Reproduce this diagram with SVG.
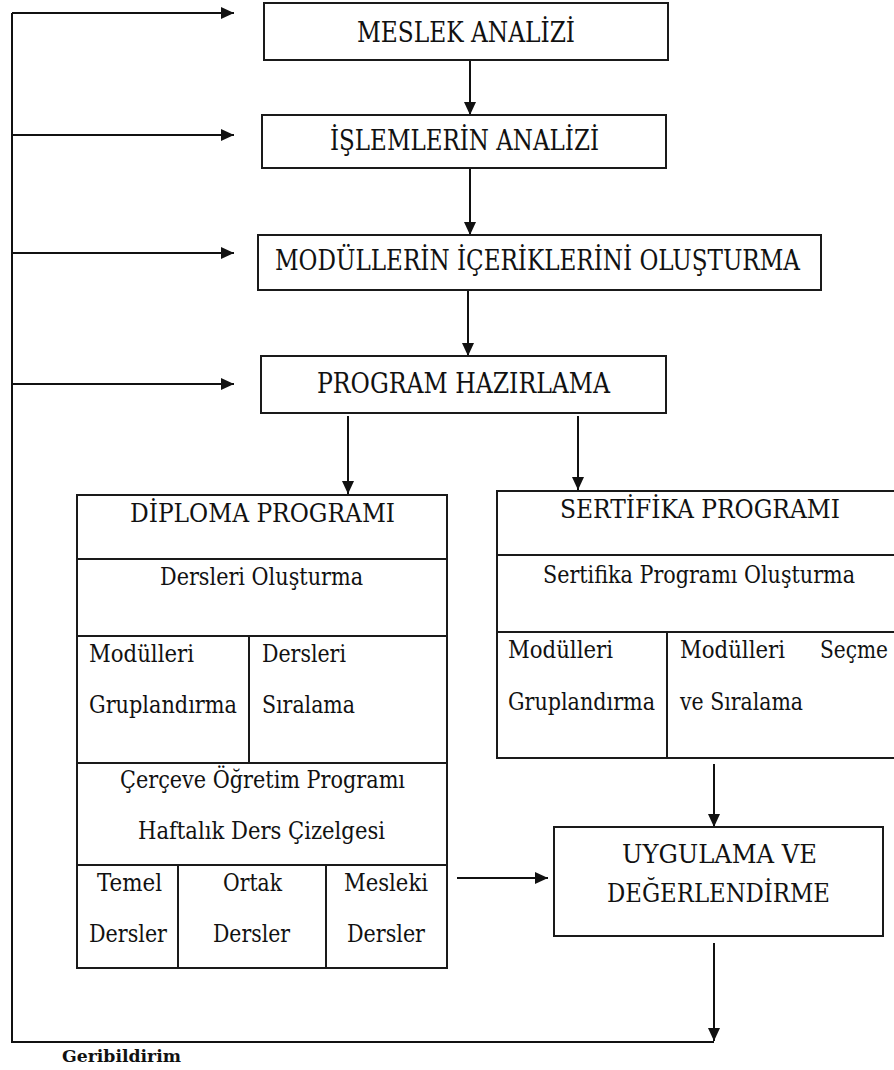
<svg xmlns="http://www.w3.org/2000/svg" width="894" height="1070" viewBox="0 0 894 1070">
  <style>
    .box { fill: #fff; stroke: #1a1a1a; stroke-width: 2; }
    .rule { stroke: #1a1a1a; stroke-width: 2; fill: none; }
    .wire { stroke: #111; stroke-width: 2; fill: none; }
    .arrow { marker-end: url(#head); }
    .lbl { fill: #111; font-family: "DejaVu Serif", "Liberation Serif", "Times New Roman", serif; font-stretch: condensed; }
    .t1 { font-size: 27px; }
    .t2 { font-size: 26px; }
    .t3 { font-size: 24px; }
    .note { font-size: 17px; font-weight: bold; }
  </style>
  <defs>
    <marker id="head" markerUnits="userSpaceOnUse" markerWidth="14" markerHeight="12" refX="13" refY="6" orient="auto">
      <path d="M0,0 L13,6 L0,12 z" fill="#111"/>
    </marker>
  </defs>
  <rect width="894" height="1070" fill="#fff"/>

  <!-- connectors -->
  <g id="connectors">
    <!-- feedback loop -->
    <polyline class="wire" points="714,1042 12,1042 12,13"/>
    <line class="wire arrow" x1="12" y1="13" x2="234" y2="13"/>
    <line class="wire arrow" x1="12" y1="135" x2="234" y2="135"/>
    <line class="wire arrow" x1="12" y1="253" x2="234" y2="253"/>
    <line class="wire arrow" x1="12" y1="384" x2="234" y2="384"/>
    <!-- main chain -->
    <line class="wire arrow" x1="470" y1="61" x2="470" y2="115"/>
    <line class="wire arrow" x1="470" y1="169" x2="470" y2="235"/>
    <line class="wire arrow" x1="468" y1="291" x2="468" y2="356"/>
    <line class="wire arrow" x1="348" y1="416" x2="348" y2="494"/>
    <line class="wire arrow" x1="578" y1="416" x2="578" y2="490"/>
    <line class="wire arrow" x1="457" y1="878" x2="548" y2="878"/>
    <line class="wire arrow" x1="714" y1="764" x2="714" y2="827"/>
    <line class="wire arrow" x1="714" y1="943" x2="714" y2="1041"/>
  </g>

  <g id="meslek-analizi">
    <rect class="box" x="264" y="3" width="404" height="57"/>
    <text class="lbl t1" x="357" y="42" textLength="218" lengthAdjust="spacingAndGlyphs">MESLEK ANALİZİ</text>
  </g>

  <g id="islemlerin-analizi">
    <rect class="box" x="262" y="115" width="404" height="53"/>
    <text class="lbl t1" x="330" y="150" textLength="269" lengthAdjust="spacingAndGlyphs">İŞLEMLERİN ANALİZİ</text>
  </g>

  <g id="modul-icerikleri">
    <rect class="box" x="258" y="235" width="563" height="55"/>
    <text class="lbl t1" x="275" y="270" textLength="525" lengthAdjust="spacingAndGlyphs">MODÜLLERİN İÇERİKLERİNİ OLUŞTURMA</text>
  </g>

  <g id="program-hazirlama">
    <rect class="box" x="261" y="356" width="405" height="57"/>
    <text class="lbl t1" x="317" y="393" textLength="293" lengthAdjust="spacingAndGlyphs">PROGRAM HAZIRLAMA</text>
  </g>

  <g id="diploma-programi">
    <rect class="box" x="77" y="495" width="370" height="473"/>
    <path class="rule" d="M77,559 H447 M77,636 H447 M77,763 H447 M77,865 H447 M249,636 V763 M178,865 V968 M326,865 V968"/>
    <text class="lbl t2" x="130" y="522" textLength="265" lengthAdjust="spacingAndGlyphs">DİPLOMA PROGRAMI</text>
    <text class="lbl t3" x="160" y="585" textLength="203" lengthAdjust="spacingAndGlyphs">Dersleri Oluşturma</text>
    <text class="lbl t3" x="89" y="662" textLength="105" lengthAdjust="spacingAndGlyphs">Modülleri</text>
    <text class="lbl t3" x="89" y="713" textLength="148" lengthAdjust="spacingAndGlyphs">Gruplandırma</text>
    <text class="lbl t3" x="262" y="662" textLength="84" lengthAdjust="spacingAndGlyphs">Dersleri</text>
    <text class="lbl t3" x="262" y="713" textLength="93" lengthAdjust="spacingAndGlyphs">Sıralama</text>
    <text class="lbl t3" x="120" y="788" textLength="285" lengthAdjust="spacingAndGlyphs">Çerçeve Öğretim Programı</text>
    <text class="lbl t3" x="138" y="839" textLength="247" lengthAdjust="spacingAndGlyphs">Haftalık Ders Çizelgesi</text>
    <text class="lbl t3" x="97" y="891" textLength="65" lengthAdjust="spacingAndGlyphs">Temel</text>
    <text class="lbl t3" x="89" y="942" textLength="78" lengthAdjust="spacingAndGlyphs">Dersler</text>
    <text class="lbl t3" x="223" y="891" textLength="59" lengthAdjust="spacingAndGlyphs">Ortak</text>
    <text class="lbl t3" x="213" y="942" textLength="77" lengthAdjust="spacingAndGlyphs">Dersler</text>
    <text class="lbl t3" x="344" y="891" textLength="84" lengthAdjust="spacingAndGlyphs">Mesleki</text>
    <text class="lbl t3" x="347" y="942" textLength="78" lengthAdjust="spacingAndGlyphs">Dersler</text>
  </g>

  <g id="sertifika-programi">
    <path class="rule" d="M896,491 H497 V758 H896 M497,555 H896 M497,632 H896 M667,632 V758"/>
    <text class="lbl t2" x="560" y="518" textLength="280" lengthAdjust="spacingAndGlyphs">SERTİFİKA PROGRAMI</text>
    <text class="lbl t3" x="543" y="583" textLength="312" lengthAdjust="spacingAndGlyphs">Sertifika Programı Oluşturma</text>
    <text class="lbl t3" x="508" y="658" textLength="105" lengthAdjust="spacingAndGlyphs">Modülleri</text>
    <text class="lbl t3" x="508" y="710" textLength="147" lengthAdjust="spacingAndGlyphs">Gruplandırma</text>
    <text class="lbl t3" x="680" y="658" textLength="105" lengthAdjust="spacingAndGlyphs">Modülleri</text>
    <text class="lbl t3" x="820" y="658" textLength="68" lengthAdjust="spacingAndGlyphs">Seçme</text>
    <text class="lbl t3" x="680" y="710" textLength="123" lengthAdjust="spacingAndGlyphs">ve Sıralama</text>
  </g>

  <g id="uygulama-degerlendirme">
    <rect class="box" x="554" y="827" width="329" height="109"/>
    <text class="lbl t2" x="622" y="863" textLength="195" lengthAdjust="spacingAndGlyphs">UYGULAMA VE</text>
    <text class="lbl t2" x="607" y="902" textLength="223" lengthAdjust="spacingAndGlyphs">DEĞERLENDİRME</text>
  </g>

  <g id="geribildirim">
    <text class="lbl note" x="62" y="1062" textLength="119" lengthAdjust="spacingAndGlyphs">Geribildirim</text>
  </g>
</svg>
